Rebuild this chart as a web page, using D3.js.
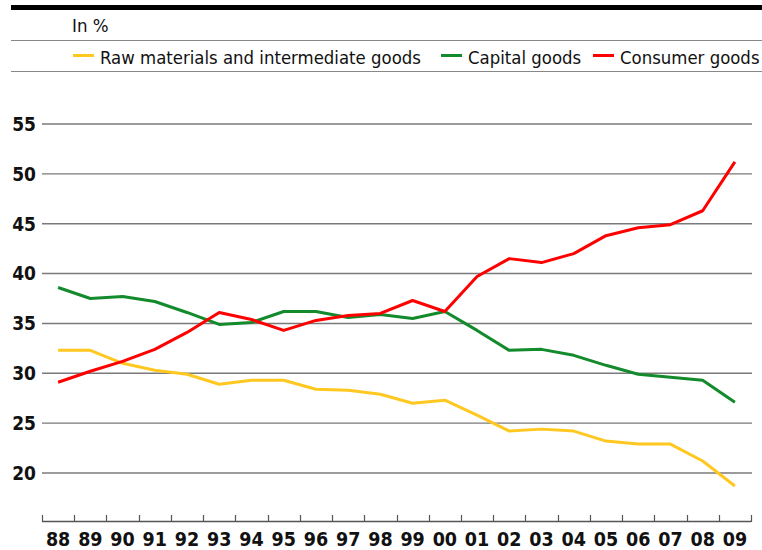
<!DOCTYPE html>
<html>
<head>
<meta charset="utf-8">
<style>
  body { margin: 0; background: #fff; }
  text { font-family: "DejaVu Sans Condensed", "DejaVu Sans", sans-serif; }
</style>
</head>
<body>
<script src="https://cdn.jsdelivr.net/npm/d3@7"></script>
<script>
// years shown as two-digit labels
var years = ["88","89","90","91","92","93","94","95","96","97","98","99",
             "00","01","02","03","04","05","06","07","08","09"];

// shares in %
var rawMaterials = [32.3,32.3,31.0,30.3,29.9,28.9,29.3,29.3,28.4,28.3,27.9,27.0,
                    27.3,25.8,24.2,24.4,24.2,23.2,22.9,22.9,21.2,18.7];
var capitalGoods = [38.6,37.5,37.7,37.2,36.1,34.9,35.1,36.2,36.2,35.6,35.9,35.5,
                    36.2,34.3,32.3,32.4,31.8,30.8,29.9,29.6,29.3,27.1];
var consumerGoods = [29.1,30.2,31.2,32.4,34.1,36.1,35.4,34.3,35.3,35.8,36.0,37.3,
                     36.2,39.7,41.5,41.1,42.0,43.8,44.6,44.9,46.3,51.2];

var yTicks = [20,25,30,35,40,45,50,55];

var seriesNames = ["Raw materials and intermediate goods", "Capital goods", "Consumer goods"];
var seriesColors = ["#ffc820", "#138a2c", "#ff0000"];

var W = 762, H = 550;
var svg = d3.select("body").append("svg")
    .attr("width", W)
    .attr("height", H);

// header: thick rule, unit, thin rules round the legend
svg.append("rect").attr("x", 11).attr("y", 5).attr("width", W - 11).attr("height", 5).attr("fill", "#000");
svg.append("text").attr("x", 72).attr("y", 32).attr("font-size", 18.5).attr("fill", "#111").text("In %");
svg.append("line").attr("x1", 11).attr("x2", W).attr("y1", 40.5).attr("y2", 40.5)
    .attr("stroke", "#888").attr("stroke-width", 1.2);
svg.append("line").attr("x1", 11).attr("x2", W).attr("y1", 71.5).attr("y2", 71.5)
    .attr("stroke", "#888").attr("stroke-width", 1.2);

var legendX = [73, 441, 593];
var leg = svg.selectAll(".leg").data(seriesNames).enter().append("g")
    .attr("class", "leg")
    .attr("transform", function(d, i) { return "translate(" + legendX[i] + ",0)"; });
leg.append("line").attr("x1", 0).attr("x2", 21).attr("y1", 55.5).attr("y2", 55.5)
    .attr("stroke", function(d, i) { return seriesColors[i]; }).attr("stroke-width", 3);
leg.append("text").attr("x", 27).attr("y", 64).attr("font-size", 18.4).attr("fill", "#111")
    .text(function(d) { return d; });

// scales
var x = d3.scaleBand().domain(years).range([42, 751]);
var y = d3.scaleLinear().domain([20, 55]).range([473, 124]);

// horizontal grid
svg.selectAll(".grid").data(yTicks).enter().append("line")
    .attr("class", "grid")
    .attr("x1", 42).attr("x2", 752)
    .attr("y1", function(d) { return y(d); })
    .attr("y2", function(d) { return y(d); })
    .attr("stroke", "#7a7a7a").attr("stroke-width", 1.4);

svg.selectAll(".ylab").data(yTicks).enter().append("text")
    .attr("class", "ylab")
    .attr("x", 36)
    .attr("y", function(d) { return y(d); })
    .attr("dy", "0.36em")
    .attr("text-anchor", "end")
    .attr("font-size", 19).attr("font-weight", "bold").attr("fill", "#111")
    .text(function(d) { return d; });

// x axis: baseline, ticks at band edges, labels centred
var xAxis = svg.append("g");
xAxis.append("line").attr("x1", 42).attr("x2", 751).attr("y1", 521.5).attr("y2", 521.5)
    .attr("stroke", "#555").attr("stroke-width", 1.3);
var edges = years.map(function(d) { return x(d); }).concat([x.range()[1]]);
xAxis.selectAll(".tk").data(edges).enter().append("line")
    .attr("x1", function(d) { return Math.round(d) + 0.5; })
    .attr("x2", function(d) { return Math.round(d) + 0.5; })
    .attr("y1", 515).attr("y2", 522)
    .attr("stroke", "#555").attr("stroke-width", 1.2);
xAxis.selectAll(".xlab").data(years).enter().append("text")
    .attr("x", function(d) { return x(d) + x.bandwidth() / 2; })
    .attr("y", 546)
    .attr("text-anchor", "middle")
    .attr("font-size", 19.5).attr("font-weight", "bold").attr("fill", "#111")
    .text(function(d) { return d; });

// lines
var line = d3.line()
    .x(function(d, i) { return x(years[i]) + x.bandwidth() / 2; })
    .y(function(d) { return y(d); });

var allSeries = [rawMaterials, capitalGoods, consumerGoods];
svg.selectAll(".series").data(allSeries).enter().append("path")
    .attr("class", "series")
    .attr("d", line)
    .attr("fill", "none")
    .attr("stroke", function(d, i) { return seriesColors[i]; })
    .attr("stroke-width", 3)
    .attr("stroke-linejoin", "round");
</script>
</body>
</html>
